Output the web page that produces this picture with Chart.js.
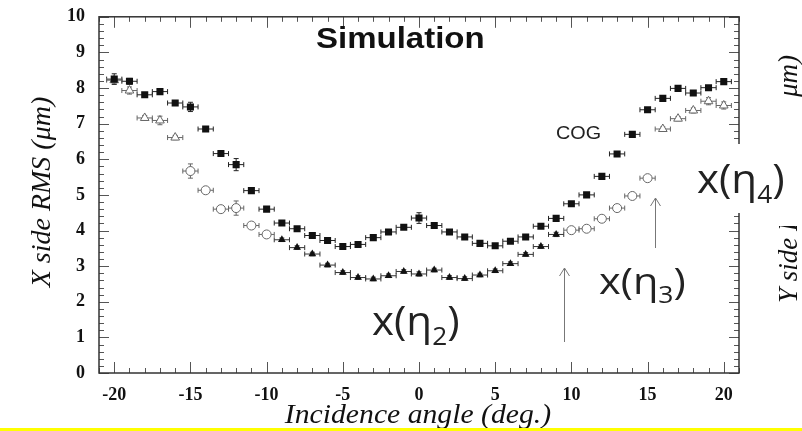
<!DOCTYPE html>
<html lang="en">
<head>
  <meta charset="UTF-8">
  <title>Simulation - X side RMS vs incidence angle</title>
  <script src="https://cdn.jsdelivr.net/npm/chart.js"></script>
  <style>
    body { margin: 0; background: #fff; }
    canvas { display: block; }
  </style>
</head>
<body>
  <canvas id="grafico" width="802" height="431"></canvas>

  <script>
    // tick labels
    const xTicks = [-20, -15, -10, -5, 0, 5, 10, 15, 20];
    const yTicks = [0, 1, 2, 3, 4, 5, 6, 7, 8, 9, 10];

    // COG (filled squares)
    const cogX = [-20, -19, -18, -17, -16, -15, -14, -13, -12, -11, -10, -9, -8, -7, -6, -5, -4, -3, -2, -1, 0,
                  1, 2, 3, 4, 5, 6, 7, 8, 9, 10, 11, 12, 13, 14, 15, 16, 17, 18, 19, 20];
    const cogY = [8.25, 8.19, 7.81, 7.90, 7.58, 7.47, 6.85, 6.16, 5.85, 5.12, 4.60, 4.21, 4.05, 3.86, 3.72, 3.55, 3.61, 3.80, 3.96, 4.09, 4.35,
                  4.14, 3.96, 3.82, 3.64, 3.57, 3.70, 3.82, 4.12, 4.34, 4.75, 5.00, 5.52, 6.15, 6.70, 7.39, 7.71, 7.99, 7.86, 8.01, 8.18];
    const cogErr = [0.15, 0.08, 0.05, 0.06, 0.06, 0.13, 0.05, 0.05, 0.17, 0.04, 0.04, 0.04, 0.04, 0.04, 0.04, 0.04, 0.04, 0.05, 0.05, 0.06, 0.15,
                    0.05, 0.04, 0.04, 0.04, 0.04, 0.04, 0.04, 0.05, 0.05, 0.05, 0.05, 0.05, 0.05, 0.05, 0.06, 0.05, 0.05, 0.05, 0.06, 0.08];

    // x(eta2) (filled triangles)
    const eta2X = [-9, -8, -7, -6, -5, -4, -3, -2, -1, 0, 1, 2, 3, 4, 5, 6, 7, 8, 9];
    const eta2Y = [3.74, 3.52, 3.34, 3.03, 2.82, 2.68, 2.64, 2.73, 2.85, 2.78, 2.89, 2.68, 2.65, 2.75, 2.87, 3.07, 3.33, 3.55, 3.89];
    const eta2Err = [0.05, 0.05, 0.05, 0.05, 0.05, 0.05, 0.05, 0.05, 0.05, 0.06, 0.05, 0.05, 0.05, 0.05, 0.05, 0.05, 0.05, 0.05, 0.06];

    // x(eta3) (open circles)
    const eta3X = [-15, -14, -13, -12, -11, -10, 10, 11, 12, 13, 14, 15];
    const eta3Y = [5.67, 5.13, 4.60, 4.63, 4.14, 3.89, 4.01, 4.05, 4.33, 4.63, 4.97, 5.47];
    const eta3Err = [0.2, 0.06, 0.06, 0.2, 0.06, 0.05, 0.05, 0.05, 0.05, 0.05, 0.06, 0.06];

    // x(eta4) (open triangles)
    const eta4X = [-20, -19, -18, -17, -16, 16, 17, 18, 19, 20];
    const eta4Y = [8.22, 7.93, 7.16, 7.09, 6.61, 6.85, 7.14, 7.37, 7.63, 7.51];
    const eta4Err = [0.1, 0.1, 0.07, 0.12, 0.06, 0.06, 0.06, 0.07, 0.1, 0.1];

    const xErr = 0.5;

    function pontos(xs, ys) {
      return xs.map((x, i) => ({ x: x, y: ys[i] }));
    }

    // error bars, drawn under the markers
    const barrasErro = {
      id: "barrasErro",
      beforeDatasetsDraw(chart) {
        const c = chart.ctx, sx = chart.scales.x, sy = chart.scales.y;
        chart.data.datasets.forEach(ds => {
          c.save();
          c.strokeStyle = ds.errColor;
          c.lineWidth = 1;
          ds.data.forEach((p, j) => {
            const px = sx.getPixelForValue(p.x), py = sy.getPixelForValue(p.y);
            const x0 = sx.getPixelForValue(p.x - xErr), x1 = sx.getPixelForValue(p.x + xErr);
            c.beginPath();
            c.moveTo(x0, py); c.lineTo(x1, py);
            c.moveTo(x0, py - 2.5); c.lineTo(x0, py + 2.5);
            c.moveTo(x1, py - 2.5); c.lineTo(x1, py + 2.5);
            const e = ds.yErr[j];
            const y0 = sy.getPixelForValue(p.y - e), y1 = sy.getPixelForValue(p.y + e);
            c.moveTo(px, y0); c.lineTo(px, y1);
            c.moveTo(px - 2.5, y0); c.lineTo(px + 2.5, y0);
            c.moveTo(px - 2.5, y1); c.lineTo(px + 2.5, y1);
            c.stroke();
          });
          c.restore();
        });
      }
    };

    // ROOT style frame with inner ticks on all four sides
    const moldura = {
      id: "moldura",
      beforeDatasetsDraw(chart) {
        const c = chart.ctx, a = chart.chartArea, sx = chart.scales.x, sy = chart.scales.y;
        c.save();
        c.strokeStyle = "#555";
        c.lineWidth = 1;
        c.beginPath();
        for (let v = -21; v <= 21; v++) {
          const px = Math.round(sx.getPixelForValue(v)) + 0.5;
          const len = (v % 5 === 0) ? 11 : 5;
          c.moveTo(px, a.bottom); c.lineTo(px, a.bottom - len);
          c.moveTo(px, a.top); c.lineTo(px, a.top + len);
        }
        for (let k = 0; k <= 50; k++) {
          const v = k / 5;
          const py = Math.round(sy.getPixelForValue(v)) + 0.5;
          const len = (k % 5 === 0) ? 10 : 5;
          c.moveTo(a.left, py); c.lineTo(a.left + len, py);
          c.moveTo(a.right, py); c.lineTo(a.right - len, py);
        }
        c.stroke();
        c.strokeStyle = "#333";
        c.lineWidth = 1.5;
        c.strokeRect(a.left, a.top, a.right - a.left, a.bottom - a.top);
        c.restore();
      }
    };

    function texto(c, str, x, y, font, cor, sx, align) {
      c.save();
      c.font = font;
      c.fillStyle = cor;
      c.textAlign = align || "left";
      c.textBaseline = "alphabetic";
      c.translate(x, y);
      c.scale(sx, 1);
      c.fillText(str, 0, 0);
      c.restore();
    }

    function rotuloEta(c, sub, x, y, size, sx) {
      c.save();
      c.fillStyle = "#222";
      c.textBaseline = "alphabetic";
      c.translate(x, y);
      c.scale(sx, 1);
      c.font = size + "px 'Open Sans'";
      c.fillText("x(\u03b7", 0, 0);
      let w = c.measureText("x(\u03b7").width;
      c.font = Math.round(size * 0.63) + "px 'Open Sans'";
      c.fillText(sub, w, size * 0.25);
      w += c.measureText(sub).width;
      c.font = size + "px 'Open Sans'";
      c.fillText(")", w, 0);
      c.restore();
    }

    function seta(c, x, y0, y1) {
      c.save();
      c.strokeStyle = "#777";
      c.lineWidth = 1;
      c.beginPath();
      c.moveTo(x, y0); c.lineTo(x, y1);
      c.moveTo(x - 5, y1 + 8); c.lineTo(x, y1); c.lineTo(x + 5, y1 + 8);
      c.stroke();
      c.restore();
    }

    const anotacoes = {
      id: "anotacoes",
      afterDraw(chart) {
        const c = chart.ctx;

        texto(c, "Simulation", 316, 48, "bold 30px 'Liberation Sans'", "#111", 1.1);
        texto(c, "COG", 556, 139, "18px 'Liberation Sans'", "#222", 1.1);

        // axis titles
        c.save();
        c.translate(50, 192);
        c.rotate(-Math.PI / 2);
        c.font = "italic 28px 'Liberation Serif'";
        c.fillStyle = "#111";
        c.textAlign = "center";
        c.fillText("X side RMS (\u03bcm)", 0, 0);
        c.restore();

        texto(c, "Incidence angle (deg.)", 418, 423, "italic 27px 'Liberation Serif'", "#111", 1.1, "center");

        // neighbouring panel's title, cut by the edge
        c.save();
        c.translate(797, 303);
        c.rotate(-Math.PI / 2);
        c.font = "italic 27px 'Liberation Serif'";
        c.fillStyle = "#111";
        c.textAlign = "left";
        c.fillText("Y side RMS (", 0, 0);
        c.textAlign = "right";
        c.fillText("\u03bcm)", 248, 0);
        c.restore();

        // pasted labels with white background
        c.fillStyle = "#fff";
        c.fillRect(745, 102, 57, 124);
        c.fillRect(692, 144, 53, 69);
        rotuloEta(c, "4", 697, 193, 40, 1.05);
        rotuloEta(c, "3", 599, 294, 36, 1.15);
        rotuloEta(c, "2", 372, 335, 40, 1.05);

        seta(c, 564.5, 342, 268);
        seta(c, 655.5, 248, 198);

        c.fillStyle = "#ffff00";
        c.fillRect(0, 428, 802, 3);
      }
    };

    const ctx = document.getElementById("grafico").getContext("2d");
    const grafico = new Chart(ctx, {
      type: "scatter",
      data: {
        datasets: [
          {
            label: "COG",
            data: pontos(cogX, cogY),
            yErr: cogErr,
            errColor: "#222",
            pointStyle: "rect",
            pointRadius: 5,
            backgroundColor: "#111",
            borderColor: "#111",
            borderWidth: 0
          },
          {
            label: "x(eta2)",
            data: pontos(eta2X, eta2Y),
            yErr: eta2Err,
            errColor: "#333",
            pointStyle: "triangle",
            pointRadius: 4.5,
            backgroundColor: "#111",
            borderColor: "#111",
            borderWidth: 0
          },
          {
            label: "x(eta3)",
            data: pontos(eta3X, eta3Y),
            yErr: eta3Err,
            errColor: "#666",
            pointStyle: "circle",
            pointRadius: 4.5,
            backgroundColor: "#fff",
            borderColor: "#666",
            borderWidth: 1
          },
          {
            label: "x(eta4)",
            data: pontos(eta4X, eta4Y),
            yErr: eta4Err,
            errColor: "#666",
            pointStyle: "triangle",
            pointRadius: 5,
            backgroundColor: "#fff",
            borderColor: "#666",
            borderWidth: 1
          }
        ]
      },
      options: {
        responsive: false,
        animation: false,
        layout: { padding: { top: 14, right: 63, left: 0, bottom: 0 } },
        plugins: {
          legend: { display: false },
          tooltip: { enabled: false }
        },
        scales: {
          x: {
            type: "linear",
            min: -21,
            max: 21,
            afterBuildTicks: s => { s.ticks = xTicks.map(v => ({ value: v })); },
            afterFit: s => { s.height = 58; },
            grid: { display: false },
            border: { display: false },
            ticks: {
              autoSkip: false,
              maxRotation: 0,
              padding: 4,
              color: "#111",
              font: { family: "'Liberation Serif'", weight: "bold", size: 18 }
            }
          },
          y: {
            type: "linear",
            min: 0,
            max: 10,
            afterBuildTicks: s => { s.ticks = yTicks.map(v => ({ value: v })); },
            afterFit: s => { s.width = 99; },
            grid: { display: false },
            border: { display: false },
            ticks: {
              autoSkip: false,
              padding: 6,
              color: "#111",
              font: { family: "'Liberation Serif'", weight: "bold", size: 18 }
            }
          }
        }
      },
      plugins: [moldura, barrasErro, anotacoes]
    });
  </script>
</body>
</html>
